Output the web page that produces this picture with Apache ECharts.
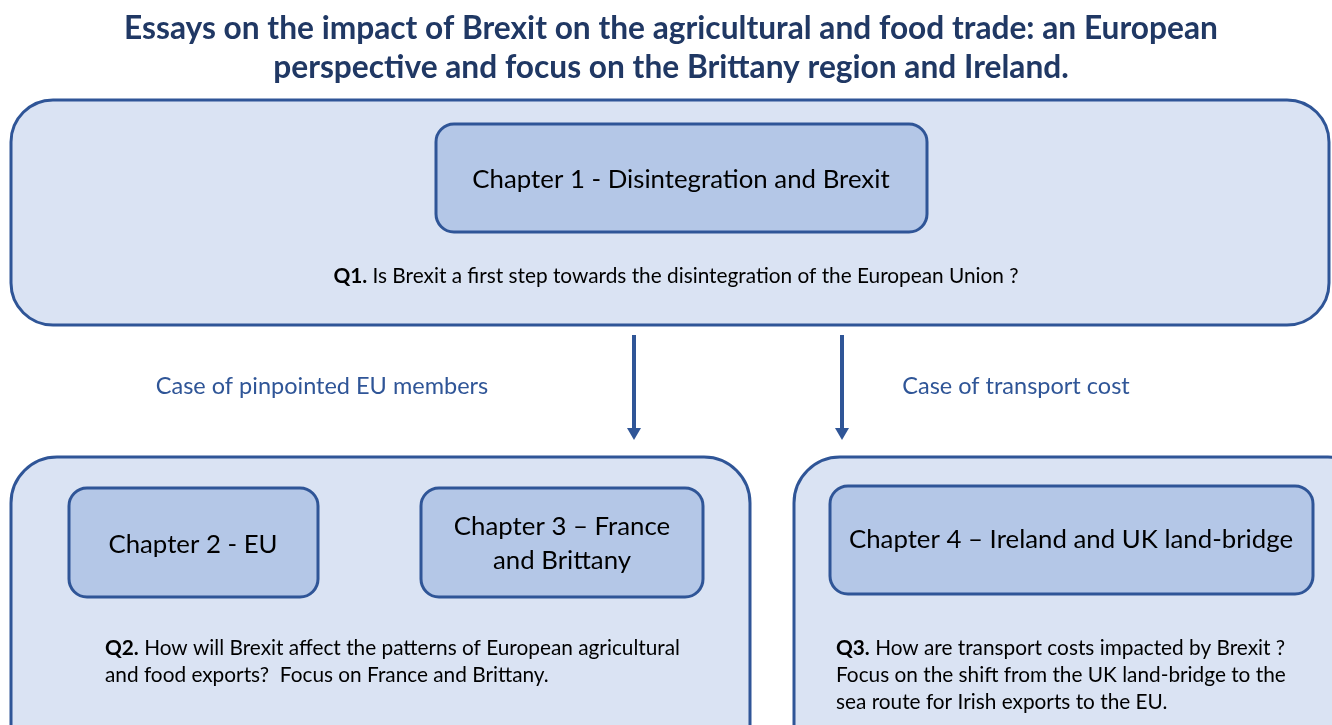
<!DOCTYPE html>
<html>
<head>
<meta charset="utf-8">
<script src="https://cdn.jsdelivr.net/npm/echarts@6/dist/echarts.min.js"></script>
<style>html,body{margin:0;padding:0;background:#fff}#c{width:1332px;height:725px}</style>
</head>
<body>
<div id="c"></div>
<script>
// ---- content ----
const titleLines = [
  "Essays on the impact of Brexit on the agricultural and food trade: an European",
  "perspective and focus on the Brittany region and Ireland."
];
const chapters = [
  "Chapter 1 - Disintegration and Brexit",
  "Chapter 2 - EU",
  "Chapter 3 \u2013 France\nand Brittany",
  "Chapter 4 \u2013 Ireland and UK land-bridge"
];
const questionLabels = ["Q1.", "Q2.", "Q3."];
const questions = [
  ["Is Brexit a first step towards the disintegration of the European Union ?"],
  ["How will Brexit affect the patterns of European agricultural", "and food exports?  Focus on France and Brittany."],
  ["How are transport costs impacted by Brexit ?", "Focus on the shift from the UK land-bridge to the", "sea route for Irish exports to the EU."]
];
const caseLabels = ["Case of pinpointed EU members", "Case of transport cost"];

// ---- styles ----
const FONT = "Lato, 'Open Sans', sans-serif";
const STROKE = "#2F5597";
const OUTER_FILL = "#DAE3F3";
const INNER_FILL = "#B4C7E7";
const NAVY = "#203864";
const TITLE_SIZE = 31.7, CHAP_SIZE = 25.8, Q_SIZE = 20.8, CASE_SIZE = 23.5;

function box(x, y, w, h, r, fill) {
  return { type: 'rect', shape: { x: x, y: y, width: w, height: h, r: r },
    style: { fill: fill, stroke: STROKE, lineWidth: 3 } };
}
function txt(x, y, text, size, align, color, extra) {
  return { type: 'text', x: x, y: y,
    style: Object.assign({ text: text, fontFamily: FONT, fontSize: size, fill: color || '#000',
      align: align || 'center', verticalAlign: 'middle' }, extra || {}) };
}
function qtext(x, y, label, lines, size, align, lh) {
  const t = '{b|' + label + '} ' + lines.join('\n');
  return { type: 'text', x: x, y: y,
    style: { text: t, fontFamily: FONT, fontSize: size, fill: '#000', align: align,
      verticalAlign: 'middle', lineHeight: lh,
      rich: { b: { fontWeight: 'bold', fontFamily: FONT, fontSize: size, fill: '#000', lineHeight: lh } } } };
}
function arrow(x, y1, y2) {
  return { type: 'group', children: [
    { type: 'line', shape: { x1: x, y1: y1, x2: x, y2: y2 - 10 }, style: { stroke: STROKE, lineWidth: 4 } },
    { type: 'polygon', shape: { points: [[x - 7, y2 - 12], [x + 7, y2 - 12], [x, y2]] }, style: { fill: STROKE } }
  ] };
}

const elements = [
  txt(671, 29, titleLines[0], TITLE_SIZE, 'center', NAVY, { fontWeight: 'bold' }),
  txt(671, 68, titleLines[1], TITLE_SIZE, 'center', NAVY, { fontWeight: 'bold' }),
  box(11, 100, 1318, 225, 42, OUTER_FILL),
  box(436, 124, 491, 108, 18, INNER_FILL),
  txt(681, 180, chapters[0], CHAP_SIZE),
  qtext(676, 276, questionLabels[0], questions[0], Q_SIZE, 'center', 26),
  arrow(634, 335, 440),
  arrow(842, 335, 440),
  txt(322, 386, caseLabels[0], CASE_SIZE, 'center', STROKE),
  txt(1016, 386, caseLabels[1], CASE_SIZE, 'center', STROKE),
  box(11, 457, 739, 320, 46, OUTER_FILL),
  box(69, 488, 249, 109, 18, INNER_FILL),
  txt(193, 545, chapters[1], CHAP_SIZE),
  box(421, 488, 282, 109, 18, INNER_FILL),
  txt(562, 544, chapters[2], CHAP_SIZE, 'center', '#000', { lineHeight: 34 }),
  qtext(105, 662, questionLabels[1], questions[1], Q_SIZE, 'left', 27),
  box(794, 457, 580, 320, 46, OUTER_FILL),
  box(830, 486, 483, 108, 18, INNER_FILL),
  txt(1071, 540, chapters[3], CHAP_SIZE),
  qtext(836, 675, questionLabels[2], questions[2], Q_SIZE, 'left', 27)
];

const chart = echarts.init(document.getElementById('c'), null, { renderer: 'canvas' });
chart.setOption({ backgroundColor: '#fff', animation: false, graphic: { elements: elements } });
</script>
</body>
</html>
